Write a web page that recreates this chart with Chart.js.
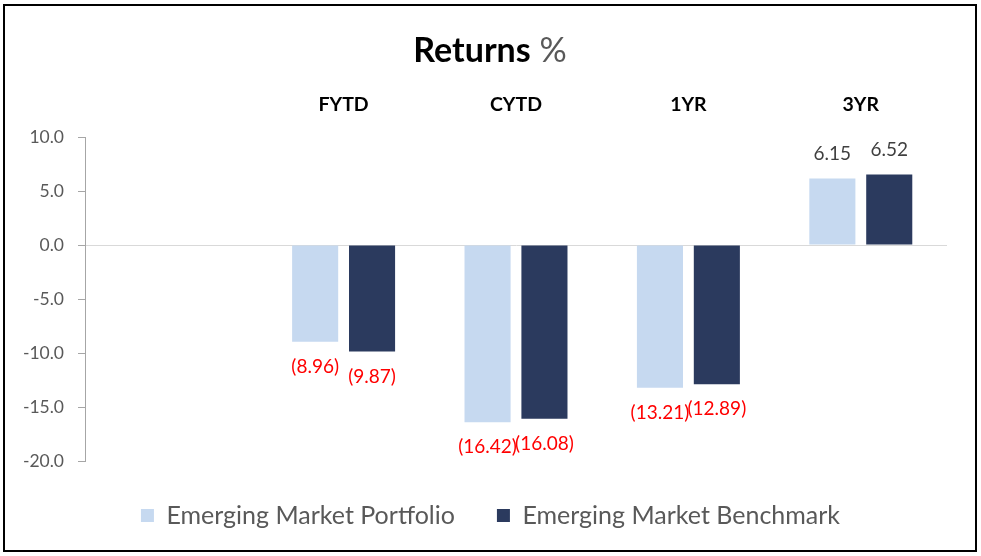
<!DOCTYPE html>
<html>
<head>
<meta charset="utf-8">
<script src="https://cdn.jsdelivr.net/npm/chart.js@4.4.1/dist/chart.umd.min.js"></script>
<style>
  html, body { margin: 0; padding: 0; background: #fff; }
  #wrap { position: relative; width: 981px; height: 556px; }
</style>
</head>
<body>
<div id="wrap"><canvas id="returnsChart"></canvas></div>
<script>
// periods (first slot is left empty, like the original sheet)
const periods = ['', 'FYTD', 'CYTD', '1YR', '3YR'];
const portfolioReturns = [null, -8.96, -16.42, -13.21, 6.15];
const benchmarkReturns = [null, -9.87, -16.08, -12.89, 6.52];
const yTicks = [-20, -15, -10, -5, 0, 5, 10];

const FONT = 'Lato, "Open Sans", sans-serif';

// title with bold "Returns" and a grey "%"
const titlePlugin = {
    id: 'mixedTitle',
    afterDraw(chart) {
        const ctx = chart.ctx;
        ctx.save();
        ctx.textBaseline = 'middle';
        ctx.font = 'bold 34px ' + FONT;
        const w1 = ctx.measureText('Returns').width;
        ctx.font = '34px ' + FONT;
        const w2 = ctx.measureText(' %').width;
        let x = 490 - (w1 + w2) / 2;
        ctx.textAlign = 'left';
        ctx.font = 'bold 34px ' + FONT;
        ctx.fillStyle = '#000';
        ctx.fillText('Returns', x, 51);
        ctx.font = '34px ' + FONT;
        ctx.fillStyle = '#595959';
        ctx.fillText(' %', x + w1, 51);

        // outer frame
        ctx.strokeStyle = '#000';
        ctx.lineWidth = 2;
        ctx.strokeRect(4, 5, 972, 546);
        ctx.restore();
    }
};

// value labels: negatives red in brackets under the bar, positives grey on top
const valueLabels = {
    id: 'valueLabels',
    afterDatasetsDraw(chart) {
        const ctx = chart.ctx;
        ctx.save();
        ctx.font = '19px ' + FONT;
        ctx.textAlign = 'center';
        ctx.textBaseline = 'middle';
        chart.data.datasets.forEach((ds, i) => {
            chart.getDatasetMeta(i).data.forEach((bar, j) => {
                const v = ds.data[j];
                if (v === null || v === undefined) return;
                if (v < 0) {
                    ctx.fillStyle = '#FF0000';
                    ctx.fillText('(' + Math.abs(v).toFixed(2) + ')', bar.x, bar.y + 25);
                } else {
                    ctx.fillStyle = '#404040';
                    ctx.fillText(v.toFixed(2), bar.x, bar.y - 25);
                }
            });
        });
        ctx.restore();
    }
};

new Chart(document.getElementById('returnsChart'), {
    type: 'bar',
    data: {
        labels: periods,
        datasets: [{
            label: 'Emerging Market Portfolio',
            data: portfolioReturns,
            backgroundColor: '#C6D9F0',
            categoryPercentage: 0.66,
            barPercentage: 0.81
        }, {
            label: 'Emerging Market Benchmark',
            data: benchmarkReturns,
            backgroundColor: '#2B3A5E',
            categoryPercentage: 0.66,
            barPercentage: 0.81
        }]
    },
    options: {
        responsive: true,
        maintainAspectRatio: false,
        animation: false,
        layout: { padding: { top: 80, left: 0, right: 0, bottom: 18 } },
        plugins: {
            legend: {
                position: 'bottom',
                labels: {
                    boxWidth: 13,
                    boxHeight: 13,
                    padding: 42,
                    color: '#595959',
                    font: { family: FONT, size: 25 }
                }
            },
            tooltip: { enabled: false }
        },
        scales: {
            x: {
                position: 'top',
                grid: { display: false },
                border: { display: false },
                ticks: {
                    color: '#000',
                    padding: 13,
                    font: { family: FONT, size: 19.5, weight: 'bold' }
                },
                afterFit(scale) { scale.height = 57; }
            },
            y: {
                min: -20,
                max: 10,
                afterBuildTicks(scale) { scale.ticks = yTicks.map(v => ({ value: v })); },
                ticks: {
                    color: '#595959',
                    padding: 14,
                    font: { family: FONT, size: 17.5 },
                    callback: v => v.toFixed(1)
                },
                grid: {
                    color: c => (c.tick && c.tick.value === 0 ? '#D9D9D9' : 'rgba(0,0,0,0)'),
                    tickColor: '#A6A6A6',
                    tickLength: 7,
                    lineWidth: 1
                },
                border: { color: '#A6A6A6', width: 1 },
                afterFit(scale) { scale.width = 85; }
            },
            // empty spacer on the right so the legend stays centred on the whole frame
            spacer: {
                position: 'right',
                grid: { display: false },
                border: { display: false },
                ticks: { display: false },
                afterFit(scale) { scale.width = 34; }
            }
        }
    },
    plugins: [titlePlugin, valueLabels]
});
</script>
</body>
</html>
